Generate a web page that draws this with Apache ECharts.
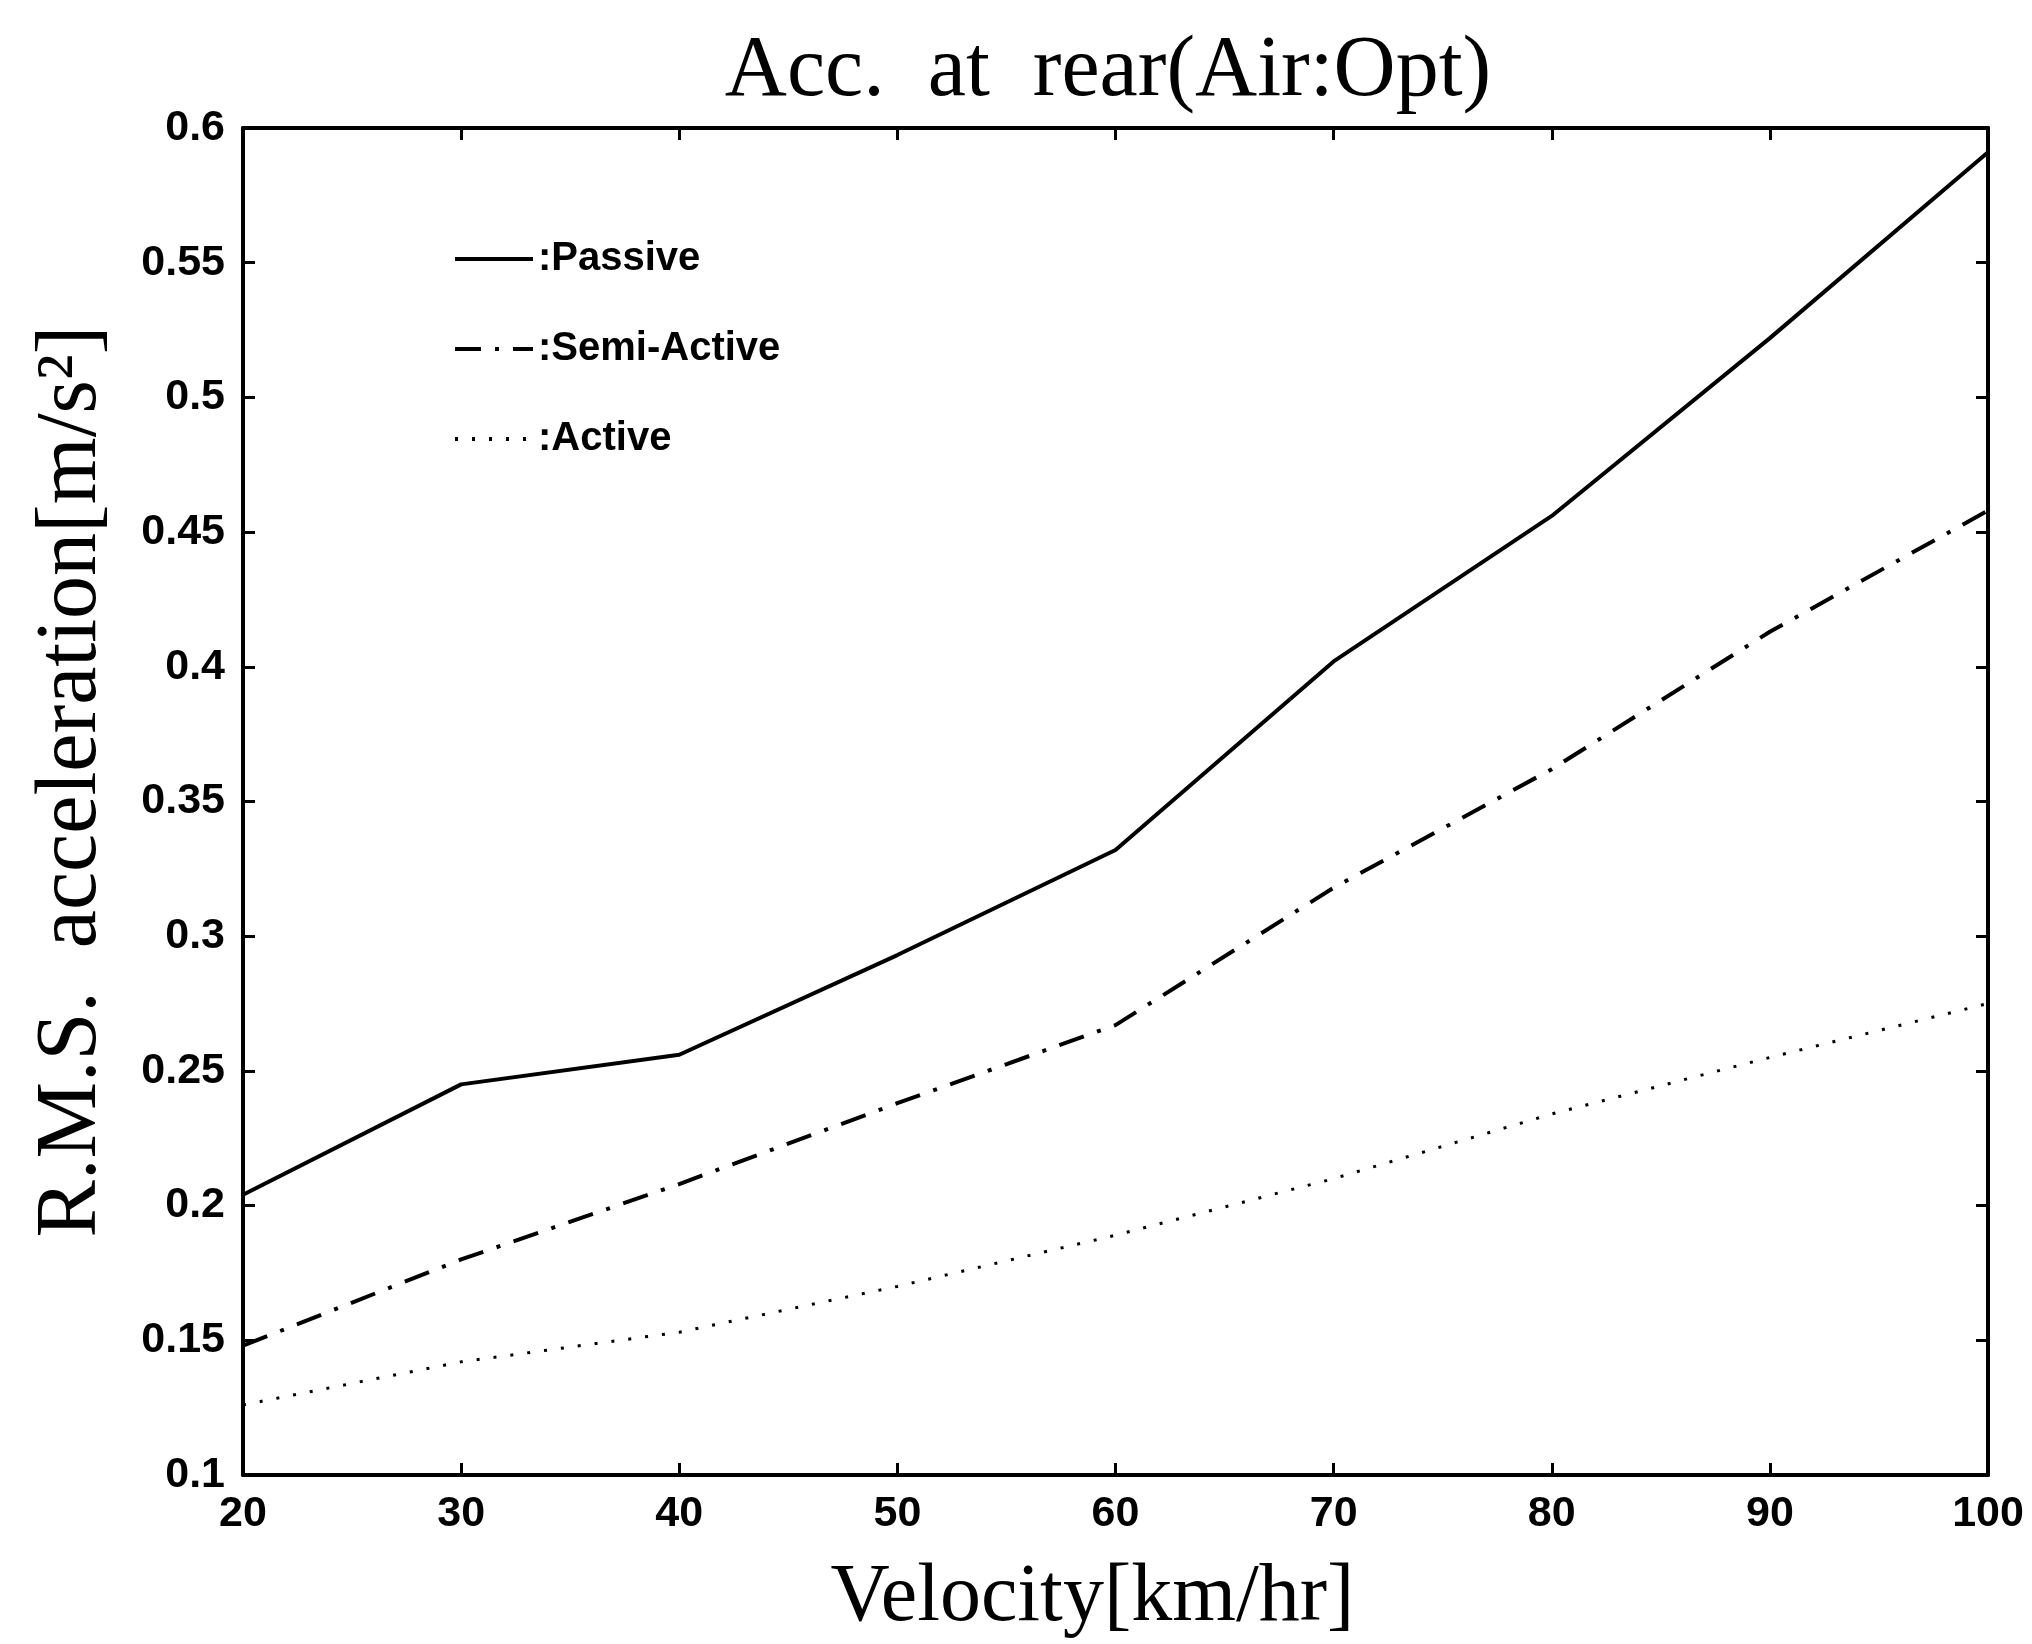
<!DOCTYPE html>
<html>
<head>
<meta charset="utf-8">
<script src="https://cdn.jsdelivr.net/npm/echarts@6/dist/echarts.min.js"></script>
<style>
html,body{margin:0;padding:0;background:#fff;}
#chart{width:2032px;height:1644px;}
</style>
</head>
<body>
<div id="chart"></div>
<script>
// Data
var velocity = [20, 30, 40, 50, 60, 70, 80, 90, 100];
var passive = [0.204, 0.245, 0.256, 0.293, 0.332, 0.402, 0.456, 0.522, 0.591];
var semiActive = [0.148, 0.180, 0.208, 0.238, 0.267, 0.318, 0.362, 0.413, 0.458];
var active = [0.126, 0.142, 0.153, 0.170, 0.189, 0.210, 0.234, 0.255, 0.275];
var seriesNames = ['Passive', 'Semi-Active', 'Active'];
var xTicks = [20, 30, 40, 50, 60, 70, 80, 90, 100];
var yTicks = [0.1, 0.15, 0.2, 0.25, 0.3, 0.35, 0.4, 0.45, 0.5, 0.55, 0.6];

function pairs(xs, ys) { return xs.map(function (x, i) { return [x, ys[i]]; }); }

var chart = echarts.init(document.getElementById('chart'), null, {renderer: 'canvas'});
var serif = '"Liberation Serif", "Times New Roman", serif';
var sans = '"Liberation Sans", Arial, sans-serif';

var axisLine = {show: true, lineStyle: {color: '#000', width: 4}};
var axisTick = {show: true, inside: true, length: 12, lineStyle: {color: '#000', width: 3}};

var option = {
  backgroundColor: '#fff',
  animation: false,
  title: {
    text: 'Acc.  at  rear(Air:Opt)',
    left: 1103,
    textAlign: 'center',
    top: 24,
    textStyle: {fontFamily: serif, fontSize: 86, fontWeight: 'normal', color: '#000'}
  },
  legend: {
    orient: 'vertical',
    left: 448,
    top: 234,
    itemWidth: 78,
    itemHeight: 14,
    itemGap: 50,
    data: seriesNames,
    itemStyle: {opacity: 0},
    lineStyle: {width: 4},
    formatter: function (n) { return ':' + n; },
    textStyle: {fontFamily: sans, fontSize: 40, fontWeight: 'bold', color: '#000'}
  },
  grid: {left: 243, right: 44, top: 128, bottom: 166, containLabel: false},
  xAxis: [{
    type: 'value', min: xTicks[0], max: xTicks[xTicks.length - 1], interval: 10,
    name: 'Velocity[km/hr]', nameLocation: 'middle', nameGap: 82,
    nameTextStyle: {fontFamily: serif, fontSize: 82, color: '#000', padding: [0, 46, 0, 0]},
    axisLine: axisLine, axisTick: axisTick, splitLine: {show: false},
    axisLabel: {fontFamily: sans, fontWeight: 'bold', fontSize: 43, color: '#000', margin: 18}
  }, {
    type: 'value', position: 'top', min: xTicks[0], max: xTicks[xTicks.length - 1], interval: 10,
    axisLine: axisLine, axisTick: axisTick, splitLine: {show: false}, axisLabel: {show: false}
  }],
  yAxis: [{
    type: 'value', min: yTicks[0], max: yTicks[yTicks.length - 1], interval: 0.05,
    name: 'R.M.S.  acceleration[m/s²]', nameLocation: 'middle', nameGap: 128,
    nameTextStyle: {fontFamily: serif, fontSize: 86, color: '#000', padding: [0, 0, 0, 40]},
    axisLine: axisLine, axisTick: axisTick, splitLine: {show: false},
    axisLabel: {fontFamily: sans, fontWeight: 'bold', fontSize: 43, color: '#000', margin: 18}
  }, {
    type: 'value', position: 'right', min: yTicks[0], max: yTicks[yTicks.length - 1], interval: 0.05,
    axisLine: axisLine, axisTick: axisTick, splitLine: {show: false}, axisLabel: {show: false}
  }],
  series: [{
    name: seriesNames[0], type: 'line', data: pairs(velocity, passive),
    symbol: 'none', lineStyle: {color: '#000', width: 4, type: 'solid'}, itemStyle: {color: '#000'}
  }, {
    name: seriesNames[1], type: 'line', data: pairs(velocity, semiActive),
    symbol: 'none', lineStyle: {color: '#000', width: 4, type: [26, 14, 4, 14]}, itemStyle: {color: '#000'}
  }, {
    name: seriesNames[2], type: 'line', data: pairs(velocity, active),
    symbol: 'none', lineStyle: {color: '#000', width: 3, type: [3, 14]}, itemStyle: {color: '#000'}
  }]
};
chart.setOption(option);
</script>
</body>
</html>
